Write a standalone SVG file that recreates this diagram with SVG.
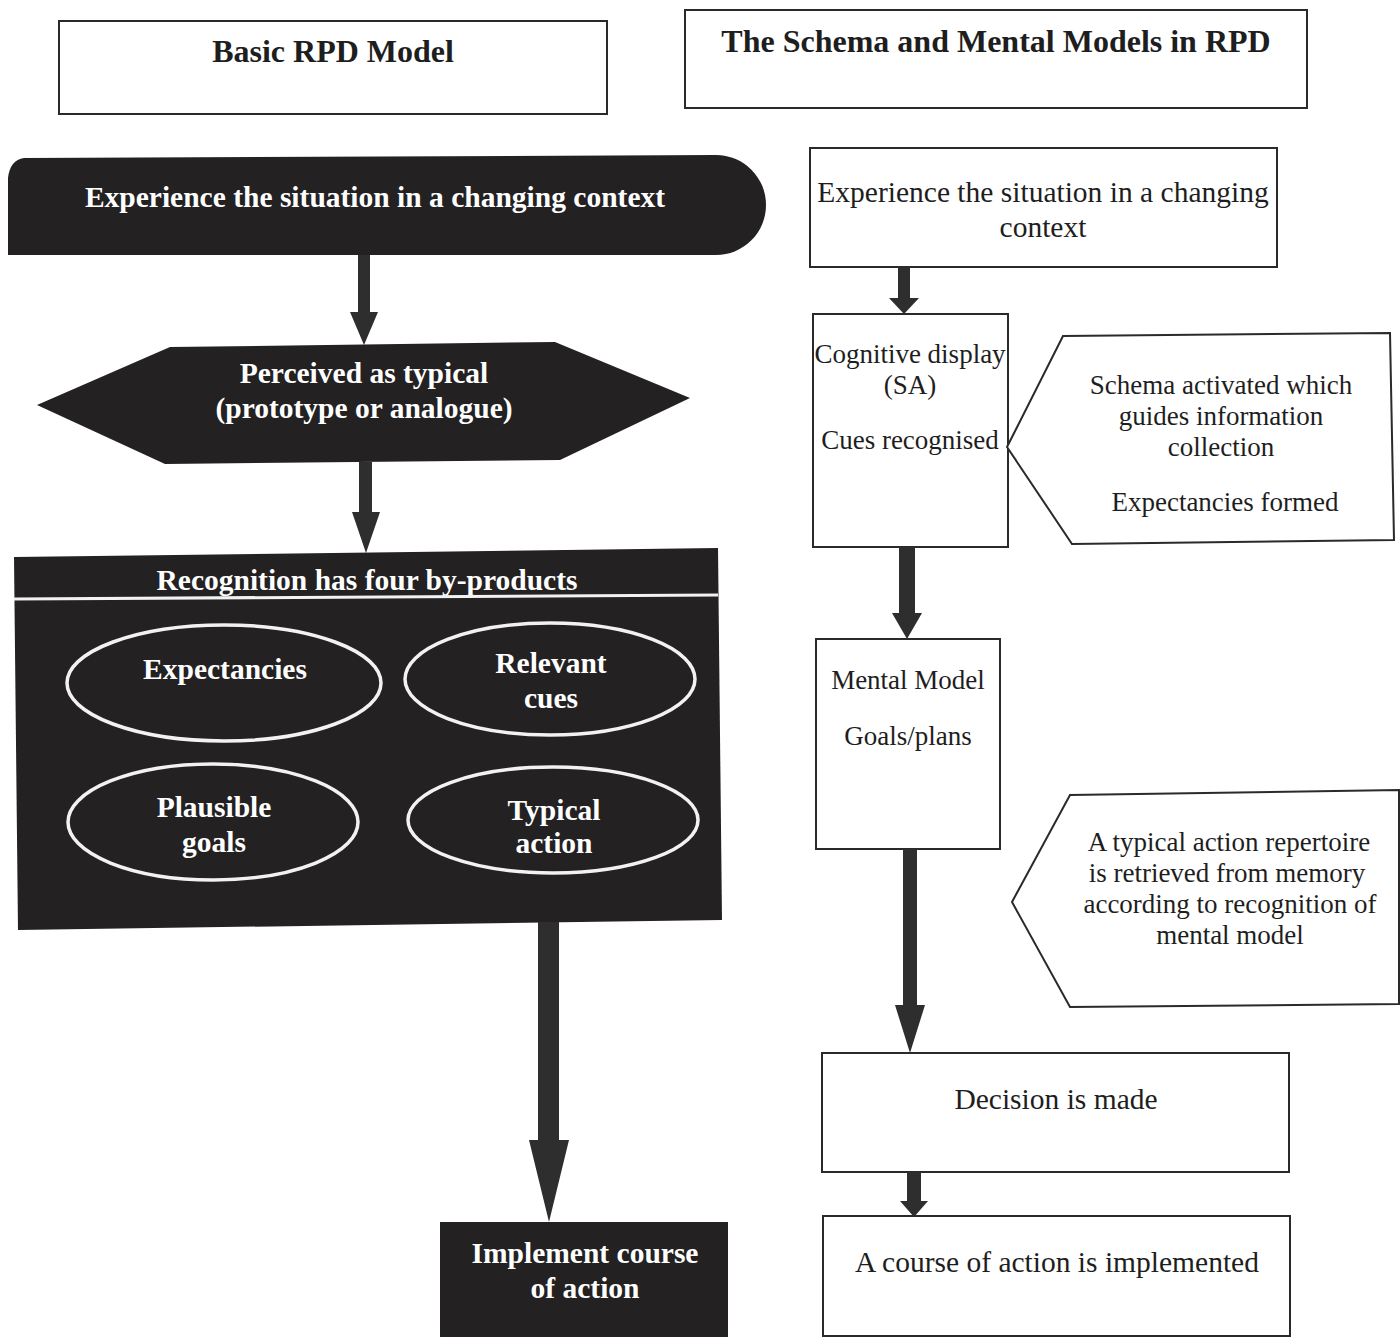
<svg xmlns="http://www.w3.org/2000/svg" width="1400" height="1337" viewBox="0 0 1400 1337">
  <style>
    .bg { fill: #ffffff; }
    .dark { fill: #232122; }
    .box { fill: #ffffff; stroke: #2a2a2a; stroke-width: 2; }
    .ring { fill: none; stroke: #f2f2f2; stroke-width: 3.5; }
    .arrow { fill: #2e2e2e; }
    .title { font-family: "Liberation Serif", "Times New Roman", serif; font-weight: bold; font-size: 32px; fill: #1e1e1e; text-anchor: middle; }
    .inv { font-family: "Liberation Serif", "Times New Roman", serif; font-weight: bold; font-size: 29.5px; fill: #ffffff; text-anchor: middle; }
    .plain { font-family: "Liberation Serif", "Times New Roman", serif; font-size: 29.5px; fill: #1e1e1e; text-anchor: middle; }
    .small { font-family: "Liberation Serif", "Times New Roman", serif; font-size: 27px; fill: #1e1e1e; text-anchor: middle; }
  </style>

  <rect class="bg" x="0" y="0" width="1400" height="1337"/>

  <!-- column headings -->
  <g id="title-basic">
    <rect class="box" x="59" y="21" width="548" height="93"/>
    <text class="title" x="333" y="62">Basic RPD Model</text>
  </g>
  <g id="title-schema">
    <rect class="box" x="685" y="10" width="622" height="98"/>
    <text class="title" x="996" y="52">The Schema and Mental Models in RPD</text>
  </g>

  <!-- left column: basic RPD flow -->
  <g id="experience-dark">
    <path class="dark" d="M24,158 L716,155 A50,50 0 0 1 766,205 A50,50 0 0 1 716,255 L8,255 L8,178 Q10,160 24,158 Z"/>
    <text class="inv" x="375" y="207">Experience the situation in a changing context</text>
  </g>

  <g id="perceived-typical">
    <polygon class="dark" points="37,405 170,347 555,342 690,398 560,460 165,464"/>
    <text class="inv" x="364" y="383">Perceived as typical</text>
    <text class="inv" x="364" y="418">(prototype or analogue)</text>
  </g>

  <g id="recognition">
    <polygon class="dark" points="14,557 718,548 722,920 18,930"/>
    <text class="inv" x="367" y="590">Recognition has four by-products</text>
    <line x1="14" y1="599" x2="718" y2="595" stroke="#f2f2f2" stroke-width="3"/>
  </g>

  <g id="expectancies">
    <ellipse class="ring" cx="224" cy="683" rx="157" ry="58"/>
    <text class="inv" x="225" y="679">Expectancies</text>
  </g>
  <g id="relevant-cues">
    <ellipse class="ring" cx="550" cy="679" rx="145" ry="56"/>
    <text class="inv" x="551" y="673">Relevant</text>
    <text class="inv" x="551" y="708">cues</text>
  </g>
  <g id="plausible-goals">
    <ellipse class="ring" cx="213" cy="822" rx="145" ry="58"/>
    <text class="inv" x="214" y="817">Plausible</text>
    <text class="inv" x="214" y="852">goals</text>
  </g>
  <g id="typical-action">
    <ellipse class="ring" cx="553" cy="820" rx="145" ry="53"/>
    <text class="inv" x="554" y="820">Typical</text>
    <text class="inv" x="554" y="853">action</text>
  </g>

  <g id="implement-dark">
    <rect class="dark" x="440" y="1222" width="288" height="115"/>
    <text class="inv" x="585" y="1263">Implement course</text>
    <text class="inv" x="585" y="1298">of action</text>
  </g>

  <!-- right column: schema and mental models -->
  <g id="experience-plain">
    <rect class="box" x="810" y="148" width="467" height="119"/>
    <text class="plain" x="1043" y="202">Experience the situation in a changing</text>
    <text class="plain" x="1043" y="237">context</text>
  </g>

  <g id="cognitive-display">
    <rect class="box" x="813" y="314" width="195" height="233"/>
    <text class="small" x="910" y="363">Cognitive display</text>
    <text class="small" x="910" y="394">(SA)</text>
    <text class="small" x="910" y="449">Cues recognised</text>
  </g>

  <g id="schema-callout">
    <polygon class="box" points="1007,447 1063,336 1390,333 1394,540 1072,544"/>
    <text class="small" x="1221" y="394">Schema activated which</text>
    <text class="small" x="1221" y="425">guides information</text>
    <text class="small" x="1221" y="456">collection</text>
    <text class="small" x="1225" y="511">Expectancies formed</text>
  </g>

  <g id="mental-model">
    <rect class="box" x="816" y="639" width="184" height="210"/>
    <text class="small" x="908" y="689">Mental Model</text>
    <text class="small" x="908" y="745">Goals/plans</text>
  </g>

  <g id="repertoire-callout">
    <polygon class="box" points="1012,902 1070,795 1399,790 1399,1004 1070,1007"/>
    <text class="small" x="1229" y="851">A typical action repertoire</text>
    <text class="small" x="1227" y="882">is retrieved from memory</text>
    <text class="small" x="1230" y="913">according to recognition of</text>
    <text class="small" x="1230" y="944">mental model</text>
  </g>

  <g id="decision">
    <rect class="box" x="822" y="1053" width="467" height="119"/>
    <text class="plain" x="1056" y="1109">Decision is made</text>
  </g>

  <g id="course-implemented">
    <rect class="box" x="823" y="1216" width="467" height="120"/>
    <text class="plain" x="1057" y="1272">A course of action is implemented</text>
  </g>

  <!-- connectors: thick block arrows -->
  <g id="connectors">
    <polygon class="arrow" points="358,255 370,255 370,312 378,312 364,345 350,312 358,312"/>
    <polygon class="arrow" points="359,462 372,462 372,512 380,512 366,553 352,512 359,512"/>
    <polygon class="arrow" points="538,922 559,922 559,1140 569,1140 549,1222 529,1140 538,1140"/>
    <polygon class="arrow" points="898,267 910,267 910,298 919,298 904,314 889,298 898,298"/>
    <polygon class="arrow" points="899,547 915,547 915,613 922,613 907,639 892,613 899,613"/>
    <polygon class="arrow" points="903,849 917,849 917,1005 925,1005 910,1053 895,1005 903,1005"/>
    <polygon class="arrow" points="907,1172 921,1172 921,1201 928,1201 914,1217 900,1201 907,1201"/>
  </g>
</svg>
